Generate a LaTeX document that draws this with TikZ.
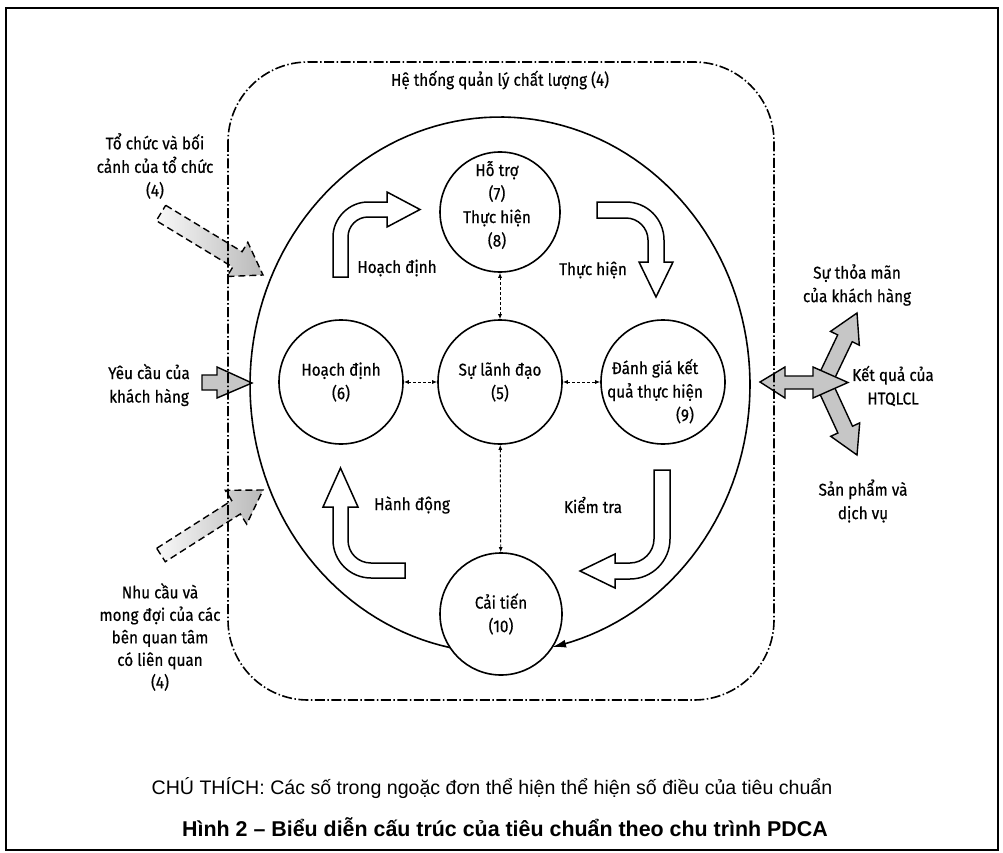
\documentclass[tikz,border=0pt]{standalone}
\usepackage{fontspec}
\setmainfont{Fira Sans}[FakeStretch=0.9,FakeBold=0.5]
\newfontfamily\capfont{Liberation Sans}
\usetikzlibrary{arrows.meta}

\begin{document}
\begin{tikzpicture}[x=1pt,y=-1pt,
  lbl/.style={font=\fontsize{17}{23.5}\selectfont, align=center, inner sep=0pt},
  stage/.style={draw, circle, line width=1.6pt, inner sep=0pt},
  blockarrow/.style={draw, line width=1.5pt, fill=white, line join=miter},
  inflow/.style={draw, line width=1.4pt, dash pattern=on 7pt off 4pt, left color=gray!5, right color=gray!55},
  solidflow/.style={draw, line width=1.4pt, fill=gray!45},
  dashlink/.style={dash pattern=on 3pt off 2pt, line width=0.9pt, {Latex[length=5pt,width=4pt]}-{Latex[length=5pt,width=4pt]}},
]
\useasboundingbox (0,0) rectangle (1003,853);

% outer frame
\draw[line width=1.3pt] (6,8) rectangle (998,850);

% inputs on the left
\path[inflow] (165.7,205.3) -- (242.1,251.7) -- (247.8,242.3) -- (263,275) -- (227.0,276.5) -- (232.7,267.1) -- (156.3,220.7) -- cycle;
\path[solidflow] (202,375) -- (217,375) -- (217,367) -- (252,383) -- (217,398) -- (217,390) -- (202,390) -- cycle;
\path[inflow] (156.7,548.3) -- (231.7,500.5) -- (225.3,490.3) -- (263,490) -- (246.7,524.1) -- (240.3,514) -- (165.3,561.7) -- cycle;

% outputs on the right
\path[solidflow] (818.8,374.6) -- (837.7,334.9) -- (830.5,331.4) -- (857,313) -- (859.3,345.2) -- (852.2,341.7) -- (833.2,381.4) -- cycle;
\path[solidflow] (833.3,384.6) -- (852.5,426.2) -- (859.7,422.9) -- (857,455) -- (830.7,436.3) -- (837.9,433.0) -- (818.7,391.4) -- cycle;
\path[solidflow] (760,382) -- (785,367) -- (785,376) -- (813,376) -- (813,367) -- (848,382.5) -- (813,398) -- (813,389) -- (785,389) -- (785,398) -- cycle;

% quality management system boundary
\draw[line width=1.6pt, dash pattern=on 10pt off 2.5pt on 1.5pt off 2.5pt, rounded corners=80pt] (228,62) rectangle (774,700);
\node[lbl] (qms) at (500,80) {Hệ thống quản lý chất lượng (4)};

% the five clauses
\node[stage, minimum size=120pt] (sup) at (500,212) {};
\node[lbl] (sup-t) at (497,205) {Hỗ trợ\\(7)\\Thực hiện\\(8)};
\node[stage, minimum size=124pt, lbl] (lead) at (500,382) {Sự lãnh đạo\\(5)};
\node[stage, minimum size=124pt, lbl] (plan) at (341,382) {Hoạch định\\(6)};
\node[stage, minimum size=124pt] (eval) at (663,382) {};
\node[lbl] (eval-t) at (655,380) {Đánh giá kết\\quả thực hiện};
\node[lbl] (eval-n) at (685,415) {(9)};
\node[stage, minimum size=122pt, lbl] (impr) at (501,614) {Cải tiến\\(10)};

% links with leadership
\draw[dashlink] (sup) -- (lead);
\draw[dashlink] (plan) -- (lead);
\draw[dashlink] (lead) -- (eval);
\draw[dashlink] (lead) -- (impr);

% PDCA loop
\draw[line width=1.6pt, -{Latex[length=14pt,width=8pt]}] plot[domain=101.5:438, samples=150] ({500+250*cos(\x)},{385+268*sin(\x)});

% turning block arrows
\path[blockarrow] (333,277) -- (333,237) .. controls (333,218) and (349,202) .. (368,202) -- (387,202) -- (387,192) -- (420,209.5) -- (387,227) -- (387,217) -- (368,217) .. controls (357,217) and (348,226) .. (348,237) -- (348,277) -- cycle;
\path[blockarrow] (597,202) -- (626,202) .. controls (647,202) and (664,219) .. (664,240) -- (664,262) -- (673,262) -- (656,297) -- (639,262) -- (648,262) -- (648,240) .. controls (648,228) and (638,218) .. (626,218) -- (597,218) -- cycle;
\path[blockarrow] (654,470) -- (670,470) -- (670,539) .. controls (670,561) and (652,579) .. (630,579) -- (615,579) -- (615,588) -- (580,571) -- (615,554) -- (615,563) -- (630,563) .. controls (643,563) and (654,552) .. (654,539) -- cycle;
\path[blockarrow] (405,563) -- (371,563) .. controls (358,563) and (348,553) .. (348,540) -- (348,507) -- (358,507) -- (340.5,468) -- (323,507) -- (333,507) -- (333,540) .. controls (333,561) and (350,578) .. (371,578) -- (405,578) -- cycle;

\node[lbl] (t-plan) at (397,268) {Hoạch định};
\node[lbl] (t-do) at (593,270) {Thực hiện};
\node[lbl] (t-act) at (412,505) {Hành động};
\node[lbl] (t-check) at (593,505) {Kiểm tra};

% side labels
\node[lbl] (ctx) at (155,166) {Tổ chức và bối\\cảnh của tổ chức\\(4)};
\node[lbl] (req) at (149,385) {Yêu cầu của\\khách hàng};
\node[lbl, font=\fontsize{17}{22.5}\selectfont] (needs) at (160,637) {Nhu cầu và\\mong đợi của các\\bên quan tâm\\có liên quan\\(4)};
\node[lbl] (sat) at (857,285) {Sự thỏa mãn\\của khách hàng};
\node[lbl] (res) at (893,386) {Kết quả của\\HTQLCL};
\node[lbl] (prod) at (863,501) {Sản phẩm và\\dịch vụ};

% caption
\node[font=\capfont\fontsize{19.6}{22}\selectfont, inner sep=0pt] (note) at (492,788) {CHÚ THÍCH: Các số trong ngoặc đơn thể hiện thể hiện số điều của tiêu chuẩn};
\node[font=\capfont\bfseries\fontsize{21.4}{24}\selectfont, inner sep=0pt] (fig) at (505,827) {Hình 2 – Biểu diễn cấu trúc của tiêu chuẩn theo chu trình PDCA};
\end{tikzpicture}
\end{document}
